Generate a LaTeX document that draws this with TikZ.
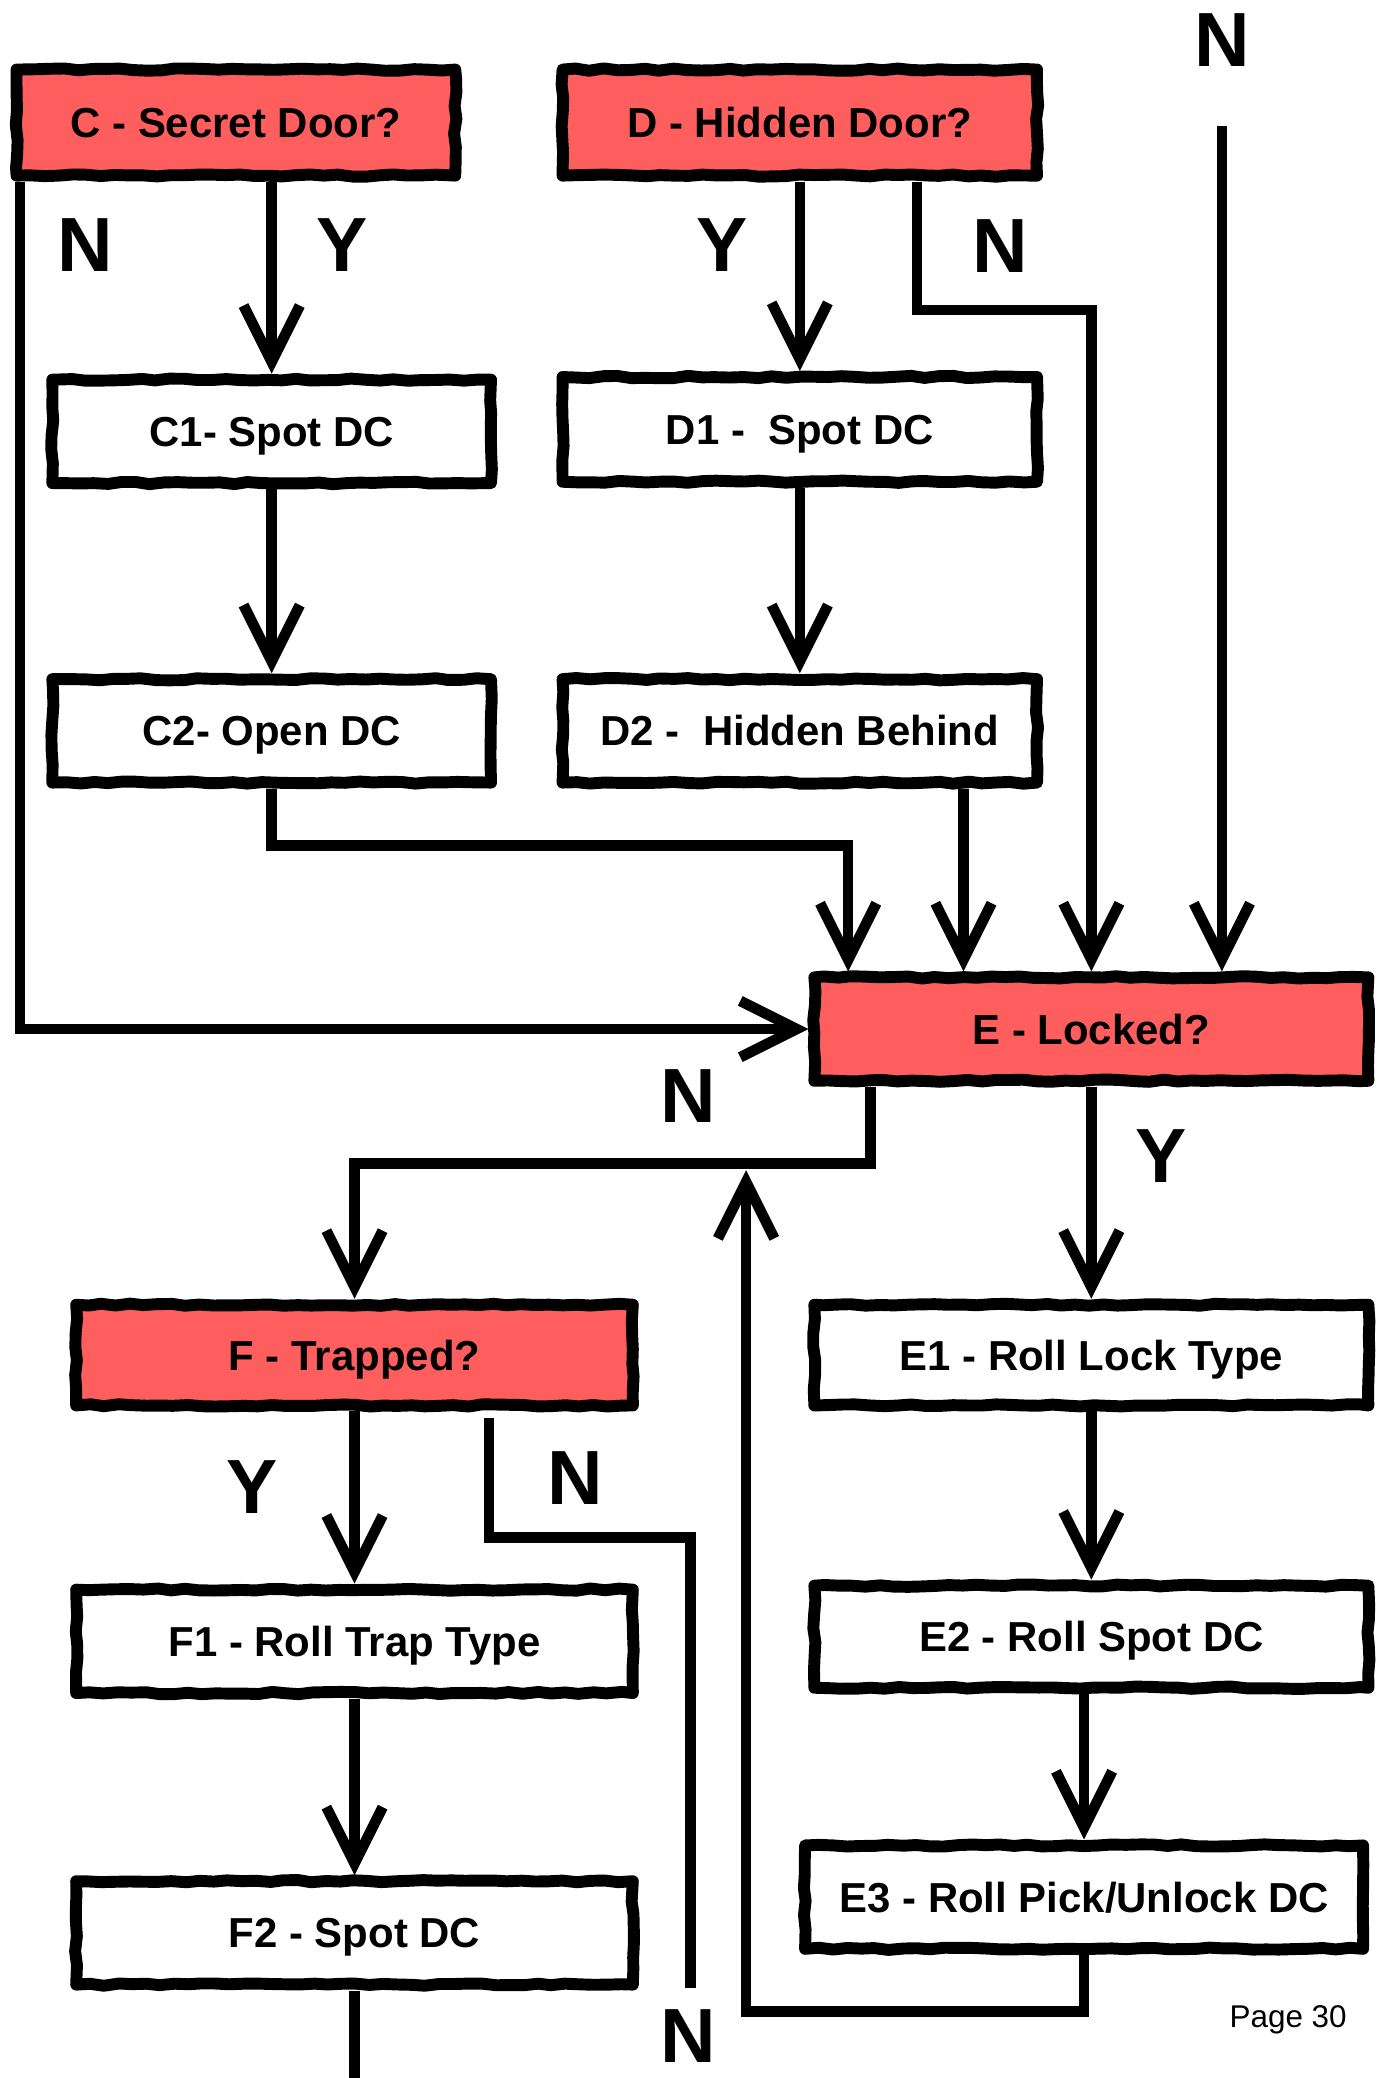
\documentclass[tikz,border=0pt]{standalone}
\usepackage{fontspec}
\setmainfont{Liberation Sans}
\usetikzlibrary{arrows.meta,decorations.pathmorphing,calc}
\definecolor{boxred}{RGB}{255,94,94}
\begin{document}
\pgfmathsetseed{7}
\begin{tikzpicture}[x=0.02cm,y=-0.02cm,
  conn/.style={line width=0.16cm},
  arr/.style={conn,-{Straight Barb[length=0.85cm,width=0.85cm]}},
  basebox/.style={draw=black,line width=0.18cm,line join=round,
    font=\fontsize{18}{21}\selectfont\bfseries,inner sep=0pt,
    text height=12.9pt,text depth=0pt,
    decorate,decoration={random steps,segment length=6pt,amplitude=0.5pt}},
  qbox/.style={basebox,fill=boxred},
  abox/.style={basebox,fill=white},
  boxsize/.style 2 args={minimum width={(#1-9)*0.02cm},minimum height={(#2-9)*0.02cm}},
  lab/.style={font=\fontsize{33}{36}\selectfont\bfseries,inner sep=0pt}]
\useasboundingbox[fill=white] (0,0) rectangle (1045,1568);

% boxes
\node[qbox,boxsize={340}{89}] (C) at (178,92.5) {C - Secret Door?};
\node[qbox,boxsize={367}{89}] (D) at (603.5,92.5) {D - Hidden Door?};
\node[abox,boxsize={340}{87}] (C1) at (205,325.5) {C1- Spot DC};
\node[abox,boxsize={340}{87}] (C2) at (205,551.5) {C2- Open DC};
\node[abox,boxsize={367}{88}] (D1) at (603.5,324) {D1 -\ \ Spot DC};
\node[abox,boxsize={367}{87}] (D2) at (603.5,551.5) {D2 -\ \ Hidden Behind};
\node[qbox,boxsize={427}{87}] (E) at (823.5,776.5) {E - Locked?};
\node[abox,boxsize={427}{85}] (E1) at (823.5,1022.5) {E1 - Roll Lock Type};
\node[abox,boxsize={427}{86}] (E2) at (823.5,1235) {E2 - Roll Spot DC};
\node[abox,boxsize={430}{87}] (E3) at (818,1431.5) {E3 - Roll Pick/Unlock DC};
\node[qbox,boxsize={429}{85}] (F) at (267.5,1022.5) {F - Trapped?};
\node[abox,boxsize={429}{87}] (F1) at (267.5,1238.5) {F1 - Roll Trap Type};
\node[abox,boxsize={429}{87}] (F2) at (267.5,1458.5) {F2 - Spot DC};

% free ends
\coordinate (topN) at (922,95);
\coordinate (merge) at (563,883);
\coordinate (fnend) at (521,1500);
\coordinate (bot) at (267.5,1600);

% connectors
\draw[arr] ($(C.south west)+(7,0)$) |- (E.west);
\draw[arr] (C1.north |- C.south) -- (C1.north);
\draw[arr] (C1.south) -- (C2.north);
\draw[arr] (C2.south) -- ++(0,43) -| ($(E.north west)+(30,0)$);
\draw[arr] (D.south) -- (D1.north);
\draw[arr] ($(D.south west)+(272,0)$) -- ++(0,97) -| (E.north);
\draw[arr] (D1.south) -- (D2.north);
\draw[arr] ($(D2.south)+(123.5,0)$) -- ($(E.north)+(-96.5,0)$);
\draw[arr] (topN) -- (topN |- E.north);
\draw[arr] (E.south) -- (E1.north);
\draw[arr] (E1.south) -- (E2.north);
\draw[arr] (E3.north |- E2.south) -- (E3.north);
\draw[arr] ($(E.south west)+(47,0)$) -- ++(0,58) -| (F.north);
\draw[arr] (E3.south) -- ++(0,43) -| (merge);
\draw[arr] (F.south) -- (F1.north);
\draw[conn] ($(F.south west)+(316,5)$) -- ++(0,90) -| (fnend);
\draw[arr] (F1.south) -- (F2.north);
\draw[conn] (F2.south) -- (bot);

% labels
\node[lab] (lN1) at (64,185) {N};
\node[lab] (lY1) at (258,185) {Y};
\node[lab] (lY2) at (545,185) {Y};
\node[lab] (lN2) at (755,186) {N};
\node[lab] (lN3) at (922,30) {N};
\node[lab] (lN4) at (519,827) {N};
\node[lab] (lY3) at (876,872) {Y};
\node[lab] (lY4) at (190,1122) {Y};
\node[lab] (lN5) at (434,1115) {N};
\node[lab] (lN6) at (519,1536) {N};
\node[font=\fontsize{13.5}{16}\selectfont,inner sep=0pt] (pg) at (972,1524) {Page 30};
\end{tikzpicture}
\end{document}
